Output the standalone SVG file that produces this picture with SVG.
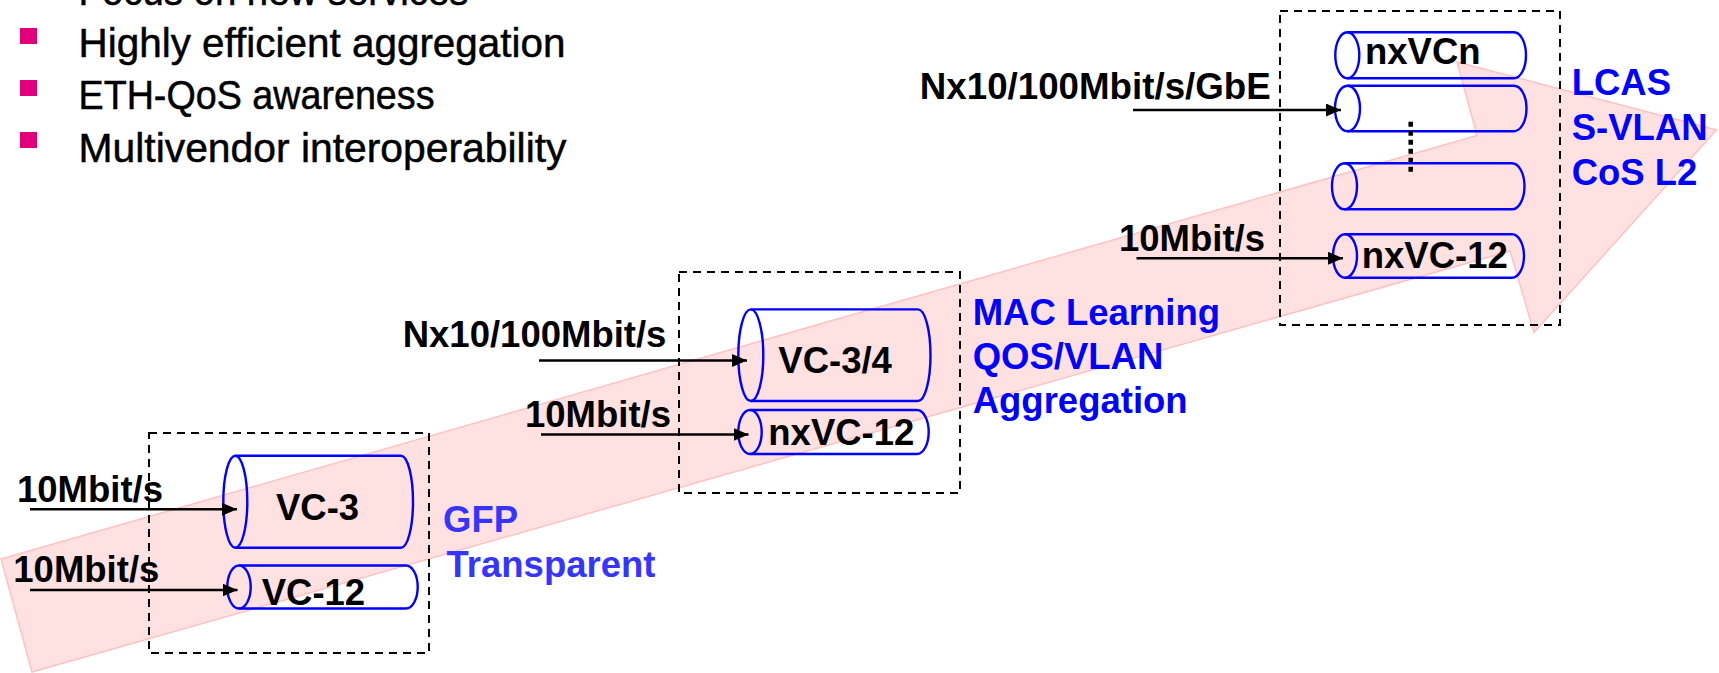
<svg xmlns="http://www.w3.org/2000/svg" width="1719" height="673" viewBox="0 0 1719 673">
  <style>
    .bullet-text { font-family: "Liberation Sans", Arial, sans-serif; font-size: 41px; fill: #000; stroke: #000; stroke-width: 0.5; }
    .bullet { fill: #E2007A; }
    .lbl { font-family: "Liberation Sans", Arial, sans-serif; font-weight: bold; font-size: 36.5px; fill: #000; }
    .feat { font-family: "Liberation Sans", Arial, sans-serif; font-weight: bold; font-size: 36.5px; fill: #0000FF; }
    .feat-light { fill: #3535FF; }
    .box { fill: none; stroke: #000; stroke-width: 2; stroke-dasharray: 8 6; }
    .cyl { fill: none; stroke: #0000FF; stroke-width: 2.4; }
    .flow { fill: #FFE1E1; stroke: #FFC2C2; stroke-width: 1.5; }
    .conn { stroke: #000; stroke-width: 2.4; fill: none; marker-end: url(#head); }
  </style>
  <defs>
    <marker id="head" markerUnits="userSpaceOnUse" markerWidth="16" markerHeight="14" refX="15" refY="6.5" orient="auto">
      <path d="M0,0 L15,6.5 L0,13 Z" fill="#000"/>
    </marker>
  </defs>

  <!-- bullet list -->
  <g id="bullets">
    <text class="bullet-text" x="78.5" y="5" textLength="390" lengthAdjust="spacingAndGlyphs">Focus on new services</text>
    <rect class="bullet" x="20" y="28" width="17" height="16"/>
    <text class="bullet-text" x="78.5" y="57.3" textLength="487" lengthAdjust="spacingAndGlyphs">Highly efficient aggregation</text>
    <rect class="bullet" x="20" y="80" width="17" height="16"/>
    <text class="bullet-text" x="78.5" y="109.3" textLength="356" lengthAdjust="spacingAndGlyphs">ETH-QoS awareness</text>
    <rect class="bullet" x="20" y="132" width="17" height="16"/>
    <text class="bullet-text" x="78.5" y="162" textLength="488" lengthAdjust="spacingAndGlyphs">Multivendor interoperability</text>
  </g>

  <!-- evolution arrow in the background -->
  <g id="evolution-arrow">
    <polygon class="flow" points="1,559 1477,135.5 1457,62 1716.5,130 1534,332.5 1510,251 32,672"/>
  </g>

  <!-- stage 1: GFP transparent -->
  <g id="stage-gfp">
    <rect class="box" x="149" y="433" width="280" height="220"/>
    <g id="vc3">
      <path class="cyl" d="M235.3,455.7 H401 A12,46 0 0 1 401,547.7 H235.3"/>
      <ellipse class="cyl" cx="235.3" cy="501.7" rx="12" ry="46"/>
      <text class="lbl" x="276" y="520">VC-3</text>
    </g>
    <g id="vc12-a">
      <path class="cyl" d="M239,565.5 H406 A11.7,21.5 0 0 1 406,608.5 H239"/>
      <ellipse class="cyl" cx="239" cy="587" rx="11.7" ry="21.5"/>
      <text class="lbl" x="261.7" y="605">VC-12</text>
    </g>
    <text class="feat feat-light" x="443" y="531.7">GFP</text>
    <text class="feat feat-light" x="446.5" y="576.7">Transparent</text>
  </g>

  <!-- stage 2: MAC learning -->
  <g id="stage-mac">
    <rect class="box" x="679" y="272" width="281" height="221"/>
    <g id="vc34">
      <path class="cyl" d="M750.8,309.4 H918 A12.5,45.8 0 0 1 918,401 H750.8"/>
      <ellipse class="cyl" cx="750.8" cy="355.2" rx="12.5" ry="45.8"/>
      <text class="lbl" x="778.3" y="373.3">VC-3/4</text>
    </g>
    <g id="nxvc12-a">
      <path class="cyl" d="M750,410 H917 A11.7,22 0 0 1 917,454 H750"/>
      <ellipse class="cyl" cx="750" cy="432" rx="11.7" ry="22"/>
      <text class="lbl" x="768.3" y="445">nxVC-12</text>
    </g>
    <text class="feat" x="972.7" y="325">MAC Learning</text>
    <text class="feat" x="972.7" y="369.3">QOS/VLAN</text>
    <text class="feat" x="972.7" y="413.3">Aggregation</text>
  </g>

  <!-- stage 3: LCAS -->
  <g id="stage-lcas">
    <rect class="box" x="1280" y="11" width="280" height="314"/>
    <g id="nxvcn">
      <path class="cyl" d="M1347.3,32.3 H1514 A12,23 0 0 1 1514,78.3 H1347.3"/>
      <ellipse class="cyl" cx="1347.3" cy="55.3" rx="12" ry="23"/>
      <text class="lbl" x="1365" y="64">nxVCn</text>
    </g>
    <g id="vc-member-1">
      <path class="cyl" d="M1347.5,85.8 H1514 A12.5,22.7 0 0 1 1514,131.2 H1347.5"/>
      <ellipse class="cyl" cx="1347.5" cy="108.5" rx="12.5" ry="22.7"/>
    </g>
    <line x1="1410.7" y1="121.7" x2="1410.7" y2="171.7" stroke="#000" stroke-width="4.5" stroke-dasharray="5 4"/>
    <g id="vc-member-2">
      <path class="cyl" d="M1344.5,163.3 H1512 A12.5,23 0 0 1 1512,209.3 H1344.5"/>
      <ellipse class="cyl" cx="1344.5" cy="186.3" rx="12.5" ry="23"/>
    </g>
    <g id="nxvc12-b">
      <path class="cyl" d="M1345,234.3 H1512 A12,21.7 0 0 1 1512,277.7 H1345"/>
      <ellipse class="cyl" cx="1345" cy="256" rx="12" ry="21.7"/>
      <text class="lbl" x="1361.7" y="268.3">nxVC-12</text>
    </g>
    <text class="feat" x="1571.7" y="95">LCAS</text>
    <text class="feat" x="1571.7" y="140">S-VLAN</text>
    <text class="feat" x="1571.7" y="185">CoS L2</text>
  </g>

  <!-- input rates feeding the containers -->
  <g id="connectors">
    <text class="lbl" x="17" y="501.7">10Mbit/s</text>
    <line class="conn" x1="30" y1="509.3" x2="237" y2="509.3"/>
    <text class="lbl" x="13.3" y="581.7">10Mbit/s</text>
    <line class="conn" x1="30" y1="590" x2="237.5" y2="590"/>

    <text class="lbl" x="402.7" y="347.3">Nx10/100Mbit/s</text>
    <line class="conn" x1="539" y1="360.5" x2="747" y2="360.5"/>
    <text class="lbl" x="525" y="426.7">10Mbit/s</text>
    <line class="conn" x1="541" y1="434.5" x2="748.5" y2="434.5"/>

    <text class="lbl" x="919.8" y="99" textLength="351" lengthAdjust="spacingAndGlyphs">Nx10/100Mbit/s/GbE</text>
    <line class="conn" x1="1133" y1="110" x2="1341" y2="110"/>
    <text class="lbl" x="1119" y="250.7">10Mbit/s</text>
    <line class="conn" x1="1136.5" y1="258.3" x2="1343" y2="258.3"/>
  </g>
</svg>
